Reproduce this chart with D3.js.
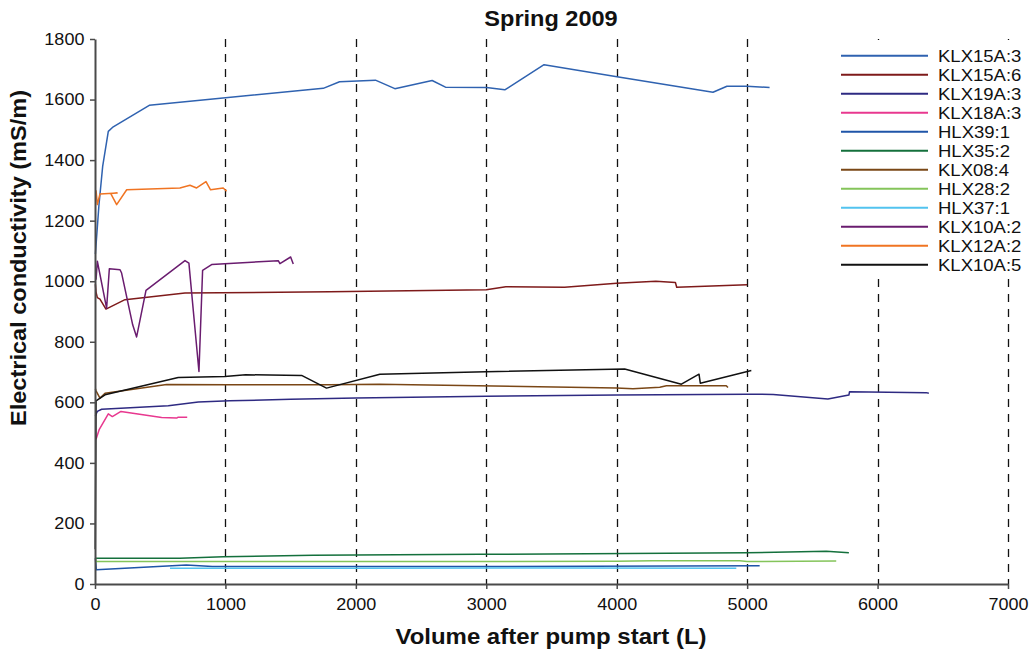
<!DOCTYPE html>
<html><head><meta charset="utf-8">
<script src="https://cdn.jsdelivr.net/npm/d3@7"></script>
<style>
body{margin:0;background:#fff;}
svg{display:block;font-family:"Liberation Sans",Arial,sans-serif;}
</style></head>
<body>
<svg id="chart" width="1036" height="653"></svg>
<script>
// ---------- data ----------
const chartTitle = "Spring 2009";
const xTitle = "Volume after pump start (L)";
const yTitle = "Electrical conductivity (mS/m)";
const xTicks = [0,1000,2000,3000,4000,5000,6000,7000];
const yTicks = [0,200,400,600,800,1000,1200,1400,1600,1800];
const gridX = [1000,2000,3000,4000,5000,6000,7000];

const seriesNames = ["KLX15A:3","KLX15A:6","KLX19A:3","KLX18A:3","HLX39:1","HLX35:2","KLX08:4","HLX28:2","HLX37:1","KLX10A:2","KLX12A:2","KLX10A:5"];

const klx15a3 = [[3,1090],[30,1250],[59,1380],[102,1495],[140,1510],[416,1581],[1001,1606],[1750,1637],[1875,1659],[2150,1664],[2299,1636],[2585,1663],[2687,1641],[3001,1640],[3142,1632],[3443,1715],[4002,1675],[4738,1624],[4845,1644],[4998,1644],[5172,1640]];
const klx15a6 = [[3,990],[8,964],[18,946],[38,941],[84,908],[230,939],[690,961],[1800,965],[3000,972],[3150,982],[3600,980],[4000,993],[4300,1000],[4450,996],[4460,980],[5000,988]];
const klx19a3 = [[3,555],[8,561],[18,570],[51,577],[562,589],[792,601],[1034,605],[1500,610],[2000,614],[3000,620],[4000,624],[5000,627],[5200,626],[5619,611],[5780,624],[5785,635],[6373,632],[6393,630]];
const klx18a3 = [[8,478],[33,511],[102,562],[133,553],[199,570],[511,550],[626,548],[638,551],[707,551]];
const hlx39_1 = [[3,85],[10,47],[700,63],[900,58],[3000,58],[5096,60]];
const hlx35_2 = [[3,85],[650,85],[983,90],[1673,95],[2950,98],[4994,103],[5607,108],[5780,103]];
const klx08_4 = [[3,645],[8,638],[38,614],[77,630],[549,659],[1034,658],[1800,658],[2180,660],[3997,647],[4125,645],[4330,650],[4381,655],[4840,655],[4853,649]];
const hlx28_2 = [[3,85],[8,74],[1000,74],[3000,74],[4000,75],[4278,77],[4943,77],[5000,74],[5683,76]];
const hlx37_1 = [[575,52],[2000,52],[3500,53],[4917,52]];
const klx10a2 = [[8,1005],[18,1066],[89,911],[110,1041],[192,1038],[204,1027],[289,856],[319,816],[391,970],[690,1068],[720,1060],[797,702],[825,1036],[894,1055],[1405,1068],[1418,1058],[1500,1080],[1520,1057]];
const klx12a2 = [[8,1300],[18,1253],[38,1288],[170,1291],[120,1290],[166,1253],[243,1302],[651,1308],[728,1317],[779,1308],[851,1329],[886,1302],[983,1308],[1009,1297]];
const klx10a5 = [[2,115],[8,605],[25,610],[77,625],[638,682],[996,685],[1155,691],[1584,689],[1775,647],[2184,693],[2996,701],[4061,710],[4496,660],[4631,693],[4641,663],[5032,705]];

const seriesData = [klx15a3,klx15a6,klx19a3,klx18a3,hlx39_1,hlx35_2,klx08_4,hlx28_2,hlx37_1,klx10a2,klx12a2,klx10a5];
const seriesColors = ["#2f62b0","#7e1a1a","#2e2a82","#e8388f","#1f55a8","#14703c","#7a4716","#84c45a","#52c3ef","#6a1c6f","#f07422","#111111"];

// ---------- layout ----------
const svg = d3.select("#chart");
const pLeft = 95, pRight = 1008, pTop = 39, pBottom = 584;
const x = d3.scaleLinear().domain([0,7000]).range([pLeft,pRight]);
const y = d3.scaleLinear().domain([0,1800]).range([pBottom,pTop]);
const sx = 1.06;

// gridlines
svg.append("g").selectAll("line").data(gridX).join("line")
  .attr("x1",d=>Math.round(x(d))+0.5).attr("x2",d=>Math.round(x(d))+0.5)
  .attr("y1",pTop).attr("y2",pBottom)
  .attr("stroke","#111").attr("stroke-width",1.3).attr("stroke-dasharray","8,7");

// series
const line = d3.line().x(d=>x(d[0])).y(d=>y(d[1]));
svg.append("g").selectAll("path").data(seriesData).join("path")
  .attr("d",line).attr("fill","none")
  .attr("stroke",(d,i)=>seriesColors[i]).attr("stroke-width",1.5)
  .attr("stroke-linejoin","round");

// axes
const fmt = d3.format("d");
const xAxis = svg.append("g").attr("transform",`translate(0,${pBottom})`)
  .call(d3.axisBottom(x).tickValues(xTicks).tickFormat(fmt).tickSize(5).tickSizeOuter(0).tickPadding(7));
const yAxis = svg.append("g").attr("transform",`translate(${pLeft},0)`)
  .call(d3.axisLeft(y).tickValues(yTicks).tickFormat(fmt).tickSize(5).tickSizeOuter(0).tickPadding(5));
[xAxis,yAxis].forEach(a=>{
  a.select(".domain").attr("stroke","#4a4a4a").attr("stroke-width",2);
  a.selectAll(".tick line").attr("stroke","#4a4a4a").attr("stroke-width",1.5);
  a.selectAll(".tick text").attr("font-size",17).attr("fill","#111")
    .attr("font-family","'Liberation Sans',Arial,sans-serif");
});
xAxis.selectAll(".tick text").attr("transform",`scale(${sx},1)`).attr("dy","0.85em");
yAxis.selectAll(".tick text").attr("transform",`scale(${sx},1)`);

// legend
const legend = svg.append("g");
legend.append("rect").attr("x",835).attr("y",40).attr("width",190).attr("height",236).attr("fill","#fff");
const lg = legend.selectAll("g").data(seriesNames).join("g")
  .attr("transform",(d,i)=>`translate(841,${55.7+19*i})`);
lg.append("line").attr("x1",0).attr("x2",87).attr("stroke",(d,i)=>seriesColors[i]).attr("stroke-width",2);
lg.append("text").attr("transform",`translate(97,0) scale(1.09,1)`).attr("dy","0.36em")
  .attr("font-size",17).attr("fill","#111").text(d=>d);

// titles
svg.append("text").attr("transform","translate(551,26) scale(1.07,1)")
  .attr("text-anchor","middle").attr("font-weight","bold").attr("font-size",22).attr("fill","#111").text(chartTitle);
svg.append("text").attr("transform","translate(551,644) scale(1.09,1)")
  .attr("text-anchor","middle").attr("font-weight","bold").attr("font-size",22).attr("fill","#111").text(xTitle);
svg.append("text").attr("transform","translate(26,258) rotate(-90) scale(1.07,1)")
  .attr("text-anchor","middle").attr("font-weight","bold").attr("font-size",22).attr("fill","#111").text(yTitle);
</script>
</body></html>
